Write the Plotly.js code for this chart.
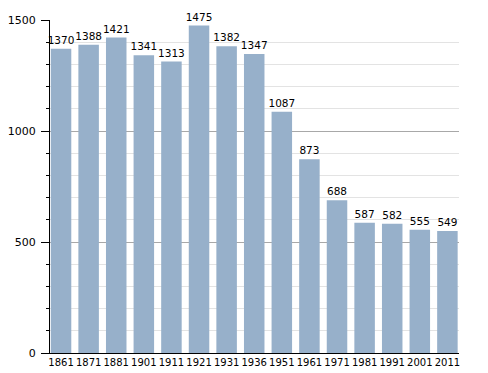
<!DOCTYPE html>
<html>
<head>
<meta charset="utf-8">
<script src="https://cdn.plot.ly/plotly-3.0.1.min.js"></script>
<style>html,body{margin:0;padding:0;background:#fff;}#chart{width:488px;height:373px;}</style>
</head>
<body>
<div id="chart"></div>
<script>
const years = ["1861","1871","1881","1901","1911","1921","1931","1936","1951","1961","1971","1981","1991","2001","2011"];
const population = [1370,1388,1421,1341,1313,1475,1382,1347,1087,873,688,587,582,555,549];
const yTicks = [0,500,1000,1500];

const trace = {
  type: 'bar',
  x: years,
  y: population,
  text: population.map(String),
  textposition: 'outside',
  constraintext: 'none',
  cliponaxis: false,
  textfont: {family: 'DejaVu Sans', size: 10.5, color: '#000'},
  marker: {color: '#97B0CA', line: {width: 0}},
  hoverinfo: 'skip'
};

const layout = {
  width: 488, height: 373,
  margin: {l: 50, r: 29, t: 20, b: 20, pad: 0},
  paper_bgcolor: '#fff', plot_bgcolor: '#fff',
  font: {family: 'DejaVu Sans', size: 10.5, color: '#000'},
  showlegend: false,
  bargap: 0.257,
  xaxis: {
    type: 'category',
    range: [-0.4, 14.42],
    showline: true, linecolor: '#000', linewidth: 1,
    ticks: '', showgrid: false, zeroline: false,
    tickangle: 0,
    ticklabelstandoff: 0,
    tickfont: {family: 'DejaVu Sans', size: 10, color: '#000'},
    fixedrange: true
  },
  yaxis: {
    range: [0, 1500],
    tickvals: yTicks,
    ticktext: yTicks.map(String),
    showline: true, linecolor: '#000', linewidth: 1,
    ticks: 'outside', ticklen: 8, tickcolor: '#000', tickwidth: 1,
    ticklabelstandoff: 3,
    showgrid: true, gridcolor: '#a8a8a8', gridwidth: 1,
    zeroline: false,
    minor: {dtick: 100, tick0: 0, showgrid: true, gridcolor: '#e3e3e3', gridwidth: 1, ticks: 'outside', ticklen: 3, tickcolor: '#000'},
    tickfont: {family: 'DejaVu Sans', size: 11, color: '#000'},
    fixedrange: true
  }
};

Plotly.newPlot('chart', [trace], layout, {displayModeBar: false, staticPlot: true});
</script>
</body>
</html>
